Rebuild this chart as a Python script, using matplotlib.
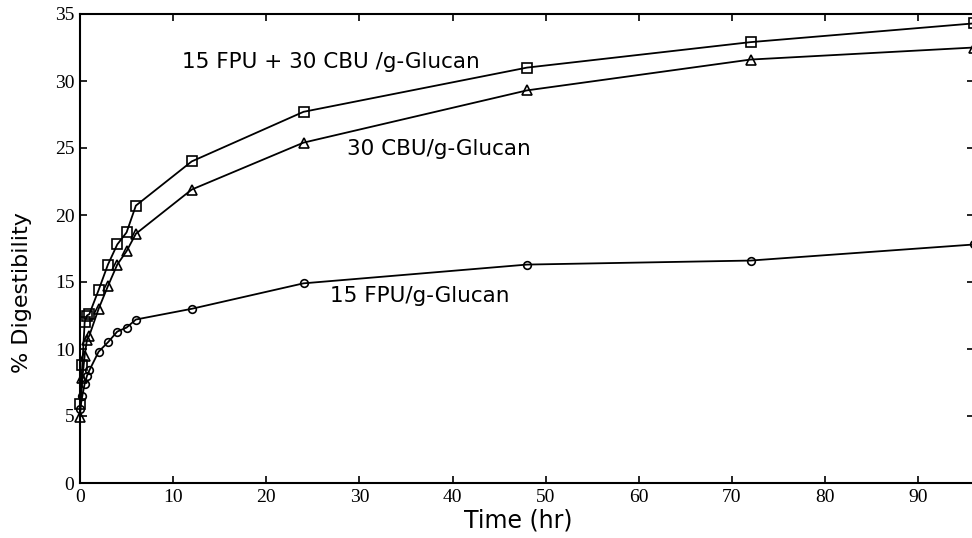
import numpy as np
import matplotlib
matplotlib.use("Agg")
import matplotlib.pyplot as plt

# sampling times (hr)
time_hr = [0, 0.25, 0.5, 0.75, 1, 2, 3, 4, 5, 6, 12, 24, 48, 72, 96]

# % digestibility for each enzyme loading
fpu_cbu = [5.9, 8.8, 12.0, 12.5, 12.6, 14.4, 16.3, 17.8, 18.7, 20.7, 24.0, 27.7, 31.0, 32.9, 34.3]
cbu_only = [4.9, 7.8, 9.5, 10.7, 11.0, 13.0, 14.7, 16.3, 17.3, 18.6, 21.9, 25.4, 29.3, 31.6, 32.5]
fpu_only = [5.5, 6.5, 7.4, 8.0, 8.4, 9.8, 10.5, 11.3, 11.6, 12.2, 13.0, 14.9, 16.3, 16.6, 17.8]

x_ticks = [0, 10, 20, 30, 40, 50, 60, 70, 80, 90]
y_ticks = [0, 5, 10, 15, 20, 25, 30, 35]

fig = plt.figure(figsize=(9.72, 5.38), dpi=100)
ax = fig.add_axes([80/972, 55/538, 894/972, 469/538])

ax.plot(time_hr, fpu_cbu, '-s', color='black', lw=1.3, ms=7, mfc='none', mew=1.2, clip_on=False)
ax.plot(time_hr, cbu_only, '-^', color='black', lw=1.3, ms=6.5, mfc='none', mew=1.2, clip_on=False)
ax.plot(time_hr, fpu_only, '-o', color='black', lw=1.3, ms=5.5, mfc='none', mew=1.2, clip_on=False)

ax.set_xlim(0, 96)
ax.set_ylim(0, 35)
ax.set_xticks(x_ticks)
ax.set_yticks(y_ticks)
ax.tick_params(direction='in', length=5, width=1.2, top=True, right=True, labelsize=14, pad=4)
for lbl in ax.get_xticklabels() + ax.get_yticklabels():
    lbl.set_family('Liberation Serif')
for s in ax.spines.values():
    s.set_linewidth(1.5)

ax.set_xlabel('Time (hr)', fontsize=17, family='DejaVu Sans')
ax.set_ylabel('% Digestibility', fontsize=16, family='DejaVu Sans')
ax.xaxis.set_label_coords(0.49, -0.055)
ax.yaxis.set_label_coords(-0.054, 0.405)

ax.text(10.9, 31.4, '15 FPU + 30 CBU /g-Glucan', fontsize=15.5, family='DejaVu Sans', va='center')
ax.text(28.7, 24.9, '30 CBU/g-Glucan', fontsize=15.5, family='DejaVu Sans', va='center')
ax.text(26.8, 13.95, '15 FPU/g-Glucan', fontsize=15.5, family='DejaVu Sans', va='center')

fig.savefig('out.png', dpi=100)
